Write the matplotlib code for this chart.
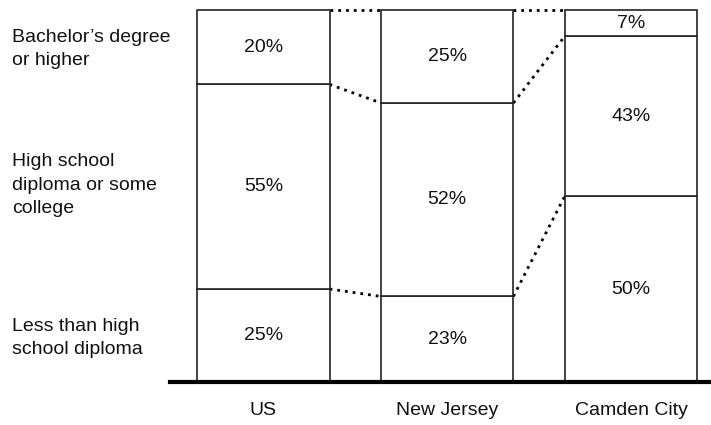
import matplotlib
matplotlib.use("Agg")
import matplotlib.pyplot as plt
import numpy as np

plt.rcParams['font.family'] = ['Liberation Sans', 'DejaVu Sans']

categories = ["US", "New Jersey", "Camden City"]
less_than_hs = [25, 23, 50]
hs_some_college = [55, 52, 43]
bachelors = [20, 25, 7]
segment_labels = ["Less than high\nschool diploma", "High school\ndiploma or some\ncollege", "Bachelor\u2019s degree\nor higher"]

fig = plt.figure(figsize=(7.11, 4.25), dpi=100)
W, H = 711, 425
ax = fig.add_axes([170/W, (425-382)/H, 541/W, 372/H])

x = np.arange(len(categories))
width = 0.72
series = [less_than_hs, hs_some_college, bachelors]
bottom = np.zeros(len(categories))
bounds = [bottom.copy()]
for vals in series:
    vals = np.array(vals, dtype=float)
    ax.bar(x, vals, width, bottom=bottom, color='white', edgecolor='#222222', linewidth=1.2, zorder=2, clip_on=False)
    for i, v in enumerate(vals):
        ax.text(x[i], bottom[i] + v/2, f"{int(v)}%", ha='center', va='center', fontsize=14, color='#111111', zorder=3)
    bottom = bottom + vals
    bounds.append(bottom.copy())

# dotted connectors between boundaries
for b in bounds[1:]:
    for i in range(len(categories) - 1):
        ax.plot([x[i] + width/2, x[i+1] - width/2], [b[i], b[i+1]], linestyle=(0, (1, 1.8)),
                color='black', linewidth=2.0, zorder=1, clip_on=False)

ax.set_xlim(x[0] - 0.508, x[-1] + 0.435)
ax.set_ylim(0, 100)
for s in ax.spines.values():
    s.set_visible(False)
ax.set_yticks([])
ax.set_xticks([])
ax.axhline(0, color='black', linewidth=3, zorder=4, clip_on=False)

for i, c in enumerate(categories):
    ax.text(x[i], -7.6, c, ha='center', va='center', fontsize=14, color='#111111')

# segment labels on the left
label_y_px = [338, 185, 49]
for lab, ypx in zip(segment_labels, label_y_px):
    fig.text(12/W, 1 - ypx/H, lab, ha='left', va='center', fontsize=14, color='#111111', linespacing=1.48)

fig.savefig("out.png", dpi=100)
